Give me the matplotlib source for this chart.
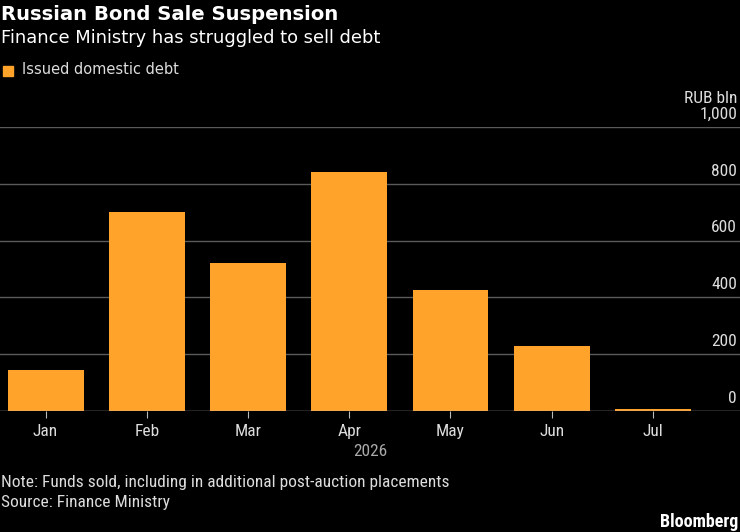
import matplotlib.pyplot as plt
import numpy as np

months = ['Jan', 'Feb', 'Mar', 'Apr', 'May', 'Jun', 'Jul']
debt = [145, 700, 522, 840, 425, 228, 8]
yticks = [0, 200, 400, 600, 800, 1000]
ytick_labels = ['0', '200', '400', '600', '800', '1,000']

orange = '#ffa32b'
bg = 'black'
narrow = ['Roboto Condensed', 'DejaVu Sans']
wide = ['DejaVu Sans']

fig = plt.figure(figsize=(7.4, 5.32), dpi=100, facecolor=bg)
ax = fig.add_axes([0, 0.2274, 1.0, 0.534])
ax.set_facecolor(bg)

x = np.arange(len(months))
ax.bar(x, debt, width=0.75, color=orange, zorder=3)
ax.set_xlim(-0.45, 6.86)
ax.set_ylim(0, 1000)

for v in yticks[1:]:
    ax.axhline(v, color='#5a5a5a', lw=1, zorder=1)
ax.axhline(0, color='#bbbbbb', lw=1, zorder=4)
for v, lab in zip(yticks, ytick_labels):
    ax.text(0.996, v + 18, lab, transform=ax.get_yaxis_transform(),
            ha='right', va='bottom', color='#dddddd', fontsize=12.5, family=narrow)
ax.text(0.996, 1000 + 75, 'RUB bln', transform=ax.get_yaxis_transform(),
        ha='right', va='bottom', color='#dddddd', fontsize=12.5, family=narrow)

ax.set_yticks([])
ax.set_xticks(x)
ax.set_xticklabels(months, family=narrow, fontsize=12.5, color='#dddddd')
ax.tick_params(axis='x', length=5, color='#bbbbbb', pad=4)
for s in ax.spines.values():
    s.set_visible(False)

fig.text(0.5, 1 - 451 / 532, '2026', ha='center', va='center', color='#aaaaaa',
         fontsize=12.5, family=narrow)

fig.text(0.002, 1 - 14 / 532, 'Russian Bond Sale Suspension', ha='left', va='center',
         color='white', fontsize=14.1, fontweight='bold', family=wide)
fig.text(0.002, 1 - 38 / 532, 'Finance Ministry has struggled to sell debt', ha='left',
         va='center', color='white', fontsize=12.9, family=wide)
fig.patches.append(plt.Rectangle((3 / 740, 1 - 76 / 532), 10 / 740, 10 / 532,
                                 transform=fig.transFigure, color=orange))
fig.text(22 / 740, 1 - 70 / 532, 'Issued domestic debt', ha='left', va='center',
         color='#dddddd', fontsize=10.5, family=wide)

fig.text(0.002, 1 - 482 / 532, 'Note: Funds sold, including in additional post-auction placements',
         ha='left', va='center', color='#dddddd', fontsize=12.5, family=narrow)
fig.text(0.002, 1 - 503 / 532, 'Source: Finance Ministry', ha='left', va='center',
         color='#dddddd', fontsize=12.5, family=narrow)
fig.text(0.998, 1 - 522 / 532, 'Bloomberg', ha='right', va='center', color='white',
         fontsize=13, fontweight='bold', family=narrow)

fig.savefig('out.png', dpi=100, facecolor=bg)
